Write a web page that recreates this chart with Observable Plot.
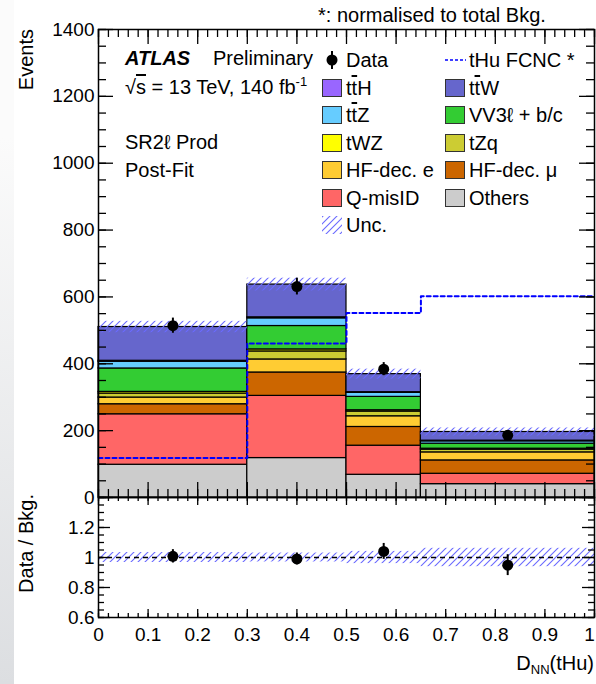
<!DOCTYPE html>
<html><head><meta charset="utf-8">
<script src="https://cdn.jsdelivr.net/npm/d3@7"></script>
<script src="https://cdn.jsdelivr.net/npm/@observablehq/plot@0.6"></script>
<style>
html,body{margin:0;padding:0;background:#fff;}
#wrap{position:relative;width:596px;height:684px;overflow:hidden;font-family:"Liberation Sans",Arial,Helvetica,sans-serif;color:#000;}
#strip{position:absolute;left:0;top:0;width:14px;height:684px;background:linear-gradient(#fbfbfb 20%,#dcdee1);}
.abs{position:absolute;white-space:nowrap;font-size:20px;line-height:24px;height:24px;}
.ol{text-decoration:overline;}
.sw{position:absolute;width:20px;height:18px;box-sizing:border-box;border:1px solid #333;}
.plot{position:absolute;left:0;overflow:visible;}
</style></head><body><div id="wrap"><div id="strip"></div></div>
<script>
// ---- data ----
const edges = [0, 0.3, 0.5, 0.65, 1];
const processes = ["Others","Q-misID","HF-dec. μ","HF-dec. e","tZq","tWZ","VV3ℓ + b/c","tt̄Z","tt̄H","tt̄W"];
const colors    = ["#cccccc","#ff6666","#cc6600","#ffcc33","#cccc33","#ffff00","#33cc33","#66ccff","#9966ff","#6666cc"];
const others = [98, 118, 68, 40];
const qmisid = [151, 186, 87, 31];
const hfMu   = [30, 70, 56, 40];
const hfE    = [20, 39, 32, 24];
const tZq    = [12, 24, 14, 8];
const tWZ    = [5, 6, 4, 3];
const vv3l   = [70, 70, 40, 15];
const ttZ    = [20, 23, 12, 7];
const ttH    = [3, 3, 2, 2];
const ttW    = [101, 98, 54, 26];
const dataObs = [514, 631, 384, 186];
const thuFCNC = [118, 461, 552, 602];
const uncAbs  = [17, 19, 15, 12];
const yTicksMain = [0, 200, 400, 600, 800, 1000, 1200, 1400];
const yTicksRatio = [0.6, 0.8, 1, 1.2];
const xTicks = [0, 0.1, 0.2, 0.3, 0.4, 0.5, 0.6, 0.7, 0.8, 0.9];
const xTickLast = [1];

const series = [others, qmisid, hfMu, hfE, tZq, tWZ, vv3l, ttZ, ttH, ttW];
const nb = edges.length - 1;
const stackRows = [];
const bins = [];
for (let b = 0; b < nb; b++) {
  let acc = 0;
  series.forEach((s, i) => {
    stackRows.push({x1: edges[b], x2: edges[b+1], y1: acc, y2: acc + s[b], process: processes[i]});
    acc += s[b];
  });
  const n = dataObs[b];
  bins.push({x1: edges[b], x2: edges[b+1], xc: (edges[b]+edges[b+1])/2, total: acc, unc: uncAbs[b],
    n, err: Math.sqrt(n), ratio: n/acc, rerr: Math.sqrt(n)/acc, runc: uncAbs[b]/acc});
}
const thuSteps = edges.map((e, i) => ({x: e, y: thuFCNC[Math.min(i, nb-1)]}));

const font = '"Liberation Sans",Arial,Helvetica,sans-serif';
const majY = d3.range(0, 1401, 200), minY = d3.range(0, 1401, 50);
const majX = d3.range(0, 11).map(i => i/10), minX = d3.range(0, 51).map(i => i/50);
const majR = d3.range(0, 5).map(i => 0.6 + i*0.2), minR = d3.range(0, 17).map(i => 0.6 + i*0.05);

function addHatch(svg, id) {
  const defs = document.createElementNS("http://www.w3.org/2000/svg", "defs");
  defs.innerHTML = `<pattern id="${id}" patternUnits="userSpaceOnUse" width="7" height="7"><path d="M-1,1 l2,-2 M0,7 l7,-7 M6,8 l2,-2" stroke="#6a6aff" stroke-width="1.1" fill="none"/></pattern>`;
  svg.insertBefore(defs, svg.firstChild);
}

const FW = 496; // frame width px
const MH = 468, RH = 120;

const main = Plot.plot({
  width: 596, height: 498, marginLeft: 98, marginRight: 2, marginTop: 29, marginBottom: 1,
  style: {fontFamily: font, background: "transparent", overflow: "visible"},
  x: {domain: [0, 1], axis: null},
  y: {domain: [0, 1400], axis: null},
  color: {domain: processes, range: colors},
  marks: [
    Plot.rect(stackRows, {x1: "x1", x2: "x2", y1: "y1", y2: "y2", fill: "process", stroke: "#000", strokeWidth: 1.2}),
    Plot.rect(bins, {x1: "x1", x2: "x2", y1: d => d.total - d.unc, y2: d => d.total + d.unc, fill: "url(#hatchA)"}),
    Plot.line(thuSteps, {x: "x", y: "y", curve: "step-after", stroke: "#0000ff", strokeWidth: 2, strokeDasharray: "4,3"}),
    Plot.ruleX(bins, {x: "xc", y1: d => d.n - d.err, y2: d => d.n + d.err, stroke: "#000", strokeWidth: 2}),
    Plot.dot(bins, {x: "xc", y: "n", r: 5.5, fill: "#000"}),
    Plot.tickY(majY, {y: d => d, insetRight: FW - 15, strokeWidth: 1.3}),
    Plot.tickY(minY, {y: d => d, insetRight: FW - 8, strokeWidth: 1.3}),
    Plot.tickY(majY, {y: d => d, insetLeft: FW - 15, strokeWidth: 1.3}),
    Plot.tickY(minY, {y: d => d, insetLeft: FW - 8, strokeWidth: 1.3}),
    Plot.tickX(majX, {x: d => d, insetTop: MH - 15, strokeWidth: 1.3}),
    Plot.tickX(minX, {x: d => d, insetTop: MH - 8, strokeWidth: 1.3}),
    Plot.tickX(majX, {x: d => d, insetBottom: MH - 15, strokeWidth: 1.3}),
    Plot.tickX(minX, {x: d => d, insetBottom: MH - 8, strokeWidth: 1.3}),
    Plot.axisY(yTicksMain, {tickSize: 0, tickPadding: 4, fontSize: 19, label: null, tickFormat: d => String(d)}),
    Plot.frame({stroke: "#000", strokeWidth: 1.5})
  ]
});
main.classList.add("plot"); main.style.top = "0px";
addHatch(main, "hatchA");

const ratio = Plot.plot({
  width: 596, height: 187, marginLeft: 98, marginRight: 2, marginTop: 0, marginBottom: 67,
  style: {fontFamily: font, background: "transparent", overflow: "visible"},
  x: {domain: [0, 1], axis: null},
  y: {domain: [0.6, 1.4], axis: null},
  marks: [
    Plot.rect(bins, {x1: "x1", x2: "x2", y1: d => 1 - d.runc, y2: d => 1 + d.runc, fill: "url(#hatchB)"}),
    Plot.ruleY([1], {stroke: "#000", strokeWidth: 1.5, strokeDasharray: "5,4"}),
    Plot.ruleX(bins, {x: "xc", y1: d => d.ratio - d.rerr, y2: d => d.ratio + d.rerr, stroke: "#000", strokeWidth: 2}),
    Plot.dot(bins, {x: "xc", y: "ratio", r: 5.5, fill: "#000"}),
    Plot.tickY(majR, {y: d => d, insetRight: FW - 12, strokeWidth: 1.3}),
    Plot.tickY(minR, {y: d => d, insetRight: FW - 6, strokeWidth: 1.3}),
    Plot.tickY(majR, {y: d => d, insetLeft: FW - 12, strokeWidth: 1.3}),
    Plot.tickY(minR, {y: d => d, insetLeft: FW - 6, strokeWidth: 1.3}),
    Plot.tickX(majX, {x: d => d, insetTop: RH - 8, strokeWidth: 1.3}),
    Plot.tickX(minX, {x: d => d, insetTop: RH - 4, strokeWidth: 1.3}),
    Plot.tickX(majX, {x: d => d, insetBottom: RH - 8, strokeWidth: 1.3}),
    Plot.tickX(minX, {x: d => d, insetBottom: RH - 4, strokeWidth: 1.3}),
    Plot.axisY(yTicksRatio, {tickSize: 0, tickPadding: 4, fontSize: 19, label: null, tickFormat: d => String(d)}),
    Plot.axisX(xTicks, {tickSize: 0, tickPadding: 10, fontSize: 19, label: null, tickFormat: d => String(d)}),
    Plot.axisX(xTickLast, {tickSize: 0, tickPadding: 10, fontSize: 19, label: null, dx: -5, tickFormat: d => String(d)}),
    Plot.frame({stroke: "#000", strokeWidth: 1.5})
  ]
});
ratio.classList.add("plot"); ratio.style.top = "497px";
addHatch(ratio, "hatchB");

const wrap = document.getElementById("wrap");
wrap.appendChild(main);
wrap.appendChild(ratio);

// ---- text overlay ----
function txt(html, x, cy, extra = "") {
  const d = document.createElement("div");
  d.className = "abs";
  d.style.left = x + "px"; d.style.top = (cy - 12) + "px";
  d.style.cssText += extra;
  d.innerHTML = html;
  wrap.appendChild(d);
  return d;
}
const fmt = s => s.replace("tt̄", 't<span class="ol">t</span>');
txt("*: normalised to total Bkg.", 318, 15);
txt('<b><i>ATLAS</i></b>', 125, 58);
txt("Preliminary", 213, 58);
txt('√<span class="ol">s</span> = 13 TeV, 140 fb<sup style="font-size:13px;vertical-align:8px;line-height:0">-1</sup>', 125, 87);
txt("SR2ℓ Prod", 125, 142);
txt("Post-Fit", 125, 170);

// legend
const rows = [60, 87.5, 115, 142.5, 170, 197.5, 225];
const col1 = ["tt̄H", "tt̄Z", "tWZ", "HF-dec. e", "Q-misID"];
const col2 = ["tt̄W", "VV3ℓ + b/c", "tZq", "HF-dec. μ", "Others"];
function swatch(x, cy, color) {
  const s = document.createElement("div");
  s.className = "sw";
  s.style.left = x + "px"; s.style.top = (cy - 9) + "px"; s.style.background = color;
  wrap.appendChild(s);
}
col1.forEach((p, i) => { swatch(322, rows[i+1], colors[processes.indexOf(p)]); txt(fmt(p), 346, rows[i+1]); });
col2.forEach((p, i) => { swatch(445, rows[i+1], colors[processes.indexOf(p)]); txt(fmt(p), 469, rows[i+1]); });
txt("Data", 346, rows[0]);
txt("tHu FCNC *", 469, rows[0]);
txt("Unc.", 346, rows[6]);

const ov = d3.select(wrap).append("svg").attr("width", 596).attr("height", 684)
  .style("position", "absolute").style("left", 0).style("top", 0).style("overflow", "visible")
  .style("font-family", font);
// data legend marker
ov.append("line").attr("x1", 332).attr("x2", 332).attr("y1", rows[0]-9).attr("y2", rows[0]+9).attr("stroke", "#000").attr("stroke-width", 2);
ov.append("circle").attr("cx", 332).attr("cy", rows[0]).attr("r", 5.5).attr("fill", "#000");
// tHu legend line
ov.append("line").attr("x1", 445).attr("x2", 466).attr("y1", rows[0]).attr("y2", rows[0]).attr("stroke", "#0000ff").attr("stroke-width", 1.3).attr("stroke-dasharray", "3,2");
// Unc legend swatch
const defs = ov.append("defs");
defs.html('<pattern id="hatchC" patternUnits="userSpaceOnUse" width="7" height="7"><path d="M-1,1 l2,-2 M0,7 l7,-7 M6,8 l2,-2" stroke="#6a6aff" stroke-width="1.1" fill="none"/></pattern>');
ov.append("rect").attr("x", 322).attr("y", rows[6]-9).attr("width", 20).attr("height", 18).attr("fill", "url(#hatchC)");
// axis titles
ov.append("text").attr("transform", "translate(26,29) rotate(-90)").attr("text-anchor", "end").attr("dy", "0.35em").attr("font-size", 20).text("Events");
ov.append("text").attr("transform", "translate(26,494) rotate(-90)").attr("text-anchor", "end").attr("dy", "0.35em").attr("font-size", 20).text("Data / Bkg.");
const xt = ov.append("text").attr("x", 594).attr("y", 670).attr("text-anchor", "end").attr("font-size", 20);
xt.append("tspan").text("D");
xt.append("tspan").attr("font-size", 13).attr("dy", 4).text("NN");
xt.append("tspan").attr("dy", -4).text("(tHu)");
</script></body></html>
